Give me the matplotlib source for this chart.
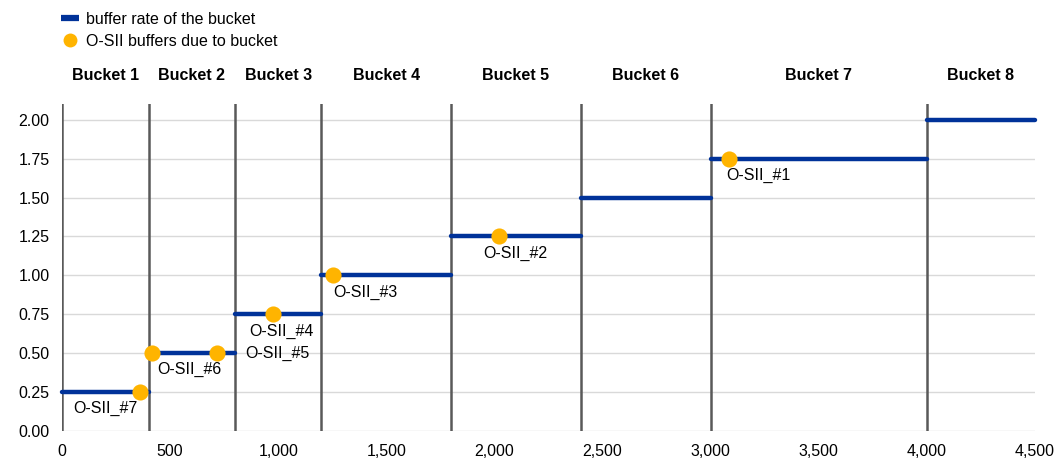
import matplotlib
matplotlib.use("Agg")
import matplotlib.pyplot as plt
from matplotlib.lines import Line2D
from matplotlib.ticker import FuncFormatter, MultipleLocator

plt.rcParams['font.family'] = ['Liberation Sans', 'DejaVu Sans']

# Bucket boundaries (score) and buffer rate of each bucket
bucket_names = ["Bucket 1", "Bucket 2", "Bucket 3", "Bucket 4",
                "Bucket 5", "Bucket 6", "Bucket 7", "Bucket 8"]
bucket_edges = [0, 400, 800, 1200, 1800, 2400, 3000, 4000, 4500]
bucket_rates = [0.25, 0.50, 0.75, 1.00, 1.25, 1.50, 1.75, 2.00]

# Individual O-SIIs: score and resulting buffer
osii_names = ["O-SII_#1", "O-SII_#2", "O-SII_#3", "O-SII_#4",
              "O-SII_#5", "O-SII_#6", "O-SII_#7"]
osii_scores = [3085, 2020, 1255, 977, 718, 415, 361]
osii_buffers = [1.75, 1.25, 1.00, 0.75, 0.50, 0.50, 0.25]
# label offsets (points) relative to each marker
osii_offsets = [(21, -12), (12, -12), (23, -12), (6, -12),
                (43, 0), (27, -12), (-25, -12)]

BLUE = "#003299"
ORANGE = "#FFB400"
GRID = "#D9D9D9"
VLINE = "#595959"
FS = 11.5

fig = plt.figure(figsize=(10.64, 4.59), dpi=100)
ax = fig.add_axes([0.0583, 0.061, 0.9144, 0.712])

ax.set_xlim(0, 4500)
ax.set_ylim(0, 2.1)
ax.yaxis.set_major_locator(MultipleLocator(0.25))
ax.xaxis.set_major_locator(MultipleLocator(500))
ax.yaxis.set_major_formatter(FuncFormatter(lambda v, p: f"{v:.2f}"))
ax.xaxis.set_major_formatter(FuncFormatter(lambda v, p: f"{v:,.0f}"))
ax.grid(axis="y", color=GRID, linewidth=1.0, zorder=0)
ax.set_axisbelow(True)
for s in ax.spines.values():
    s.set_visible(False)
ax.tick_params(length=0, labelsize=FS, colors="#000000")
ax.tick_params(axis="y", pad=9)
ax.tick_params(axis="x", pad=9)

# bucket boundaries
for e in bucket_edges[:-1]:
    ax.axvline(e, color=VLINE, linewidth=1.8, zorder=1)

# buffer rate steps
for i, r in enumerate(bucket_rates):
    ax.plot([bucket_edges[i], bucket_edges[i + 1]], [r, r], color=BLUE,
            linewidth=3.2, solid_capstyle="round", zorder=2, clip_on=False)

# bucket titles above the plot area
for i, name in enumerate(bucket_names):
    xc = (bucket_edges[i] + bucket_edges[i + 1]) / 2
    ax.text(xc, 2.285, name, ha="center", va="center", fontsize=FS,
            fontweight="bold")

# O-SII markers and labels
ax.scatter(osii_scores, osii_buffers, s=135, color=ORANGE, zorder=3,
           linewidths=0)
for name, x, y, off in zip(osii_names, osii_scores, osii_buffers, osii_offsets):
    ax.annotate(name, (x, y), xytext=off, textcoords="offset points",
                ha="center", va="center", fontsize=FS)

handles = [
    Line2D([0], [0], color=BLUE, linewidth=4.5, solid_capstyle="butt"),
    Line2D([0], [0], color=ORANGE, marker="o", linestyle="none",
           markersize=10, markeredgewidth=0),
]
fig.legend(handles, ["buffer rate of the bucket", "O-SII buffers due to bucket"],
           loc="upper left", bbox_to_anchor=(0.044, 1.006), frameon=False,
           fontsize=FS, handlelength=1.1, handletextpad=0.45,
           labelspacing=0.45)

fig.savefig("out.png", dpi=100)
